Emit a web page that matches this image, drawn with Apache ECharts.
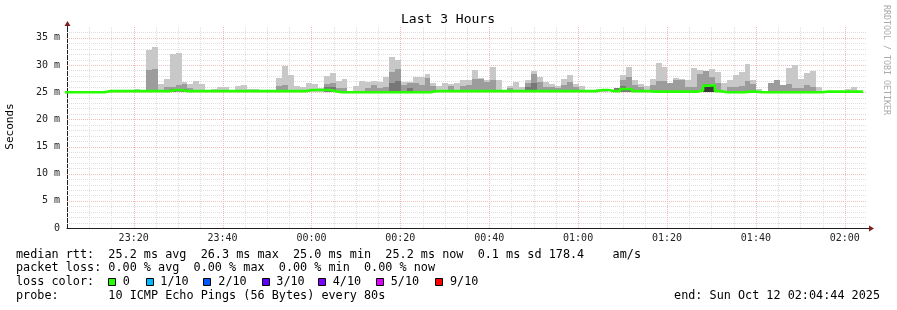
<!DOCTYPE html>
<html><head><meta charset="utf-8">
<script src="https://cdn.jsdelivr.net/npm/echarts@6/dist/echarts.min.js"></script>
<style>html,body{margin:0;padding:0;background:#fff}#c{width:897px;height:310px}</style>
</head><body><div id="c"></div>
<script>
// ---- data ----
// time axis: minutes after 23:00; each step = one 80 s RRD step
const START_MIN = 4.11;          // left edge of first step (23:04:07)
const STEP_MIN = 80 / 60;
const X_MIN = 5, X_MAX = 185;    // 23:05 .. 02:05
const X_MAJOR = [20, 40, 60, 80, 100, 120, 140, 160, 180];   // 23:20 ... 02:00
const Y_MAJOR = [5, 10, 15, 20, 25, 30, 35];                 // ms
const X_MINOR_STEP = 5, Y_MINOR_STEP = 1, Y_TOP = 37;
const SMOKE_FLOOR = 25.1;        // lowest ping level (ms)

const MEDIAN = [
 25.0,25.0,25.0,25.0,25.0,25.0,25.0,25.2,25.2,25.2,
 25.2,25.2,25.2,25.2,25.2,25.2,25.2,25.2,25.4,25.4,
 25.2,25.2,25.2,25.2,25.2,25.2,25.2,25.2,25.2,25.2,
 25.2,25.2,25.2,25.2,25.2,25.2,25.2,25.2,25.2,25.2,
 25.2,25.4,25.4,25.4,25.4,25.2,25.0,25.0,25.0,25.0,
 25.0,25.0,25.0,25.0,25.0,25.0,25.0,25.0,25.0,25.0,
 25.0,25.0,25.2,25.2,25.2,25.2,25.2,25.2,25.2,25.2,
 25.2,25.2,25.2,25.2,25.2,25.2,25.2,25.2,25.2,25.2,
 25.2,25.2,25.2,25.2,25.2,25.2,25.2,25.2,25.2,25.2,
 25.4,25.4,25.2,25.2,25.6,25.6,25.2,25.2,25.2,25.1,
 25.1,25.1,25.1,25.1,25.1,25.1,25.1,25.3,26.2,26.3,
 25.2,25.0,25.0,25.0,25.0,25.1,25.1,25.0,25.0,25.0,
 25.0,25.0,25.0,25.0,25.0,25.0,25.0,25.0,25.1,25.1,
 25.1,25.1,25.1,25.1,25.1
];
const SMOKE_MAX = [
 null,null,null,null,null,null,null,null,null,null,
 null,null,25.6,null,32.7,33.4,26.5,27.5,32.1,32.2,
 26.8,26.5,27.1,26.5,null,25.5,25.9,25.9,null,26.2,
 26.3,25.5,25.5,null,null,null,27.6,29.8,28.2,26.1,
 26.0,26.7,26.5,25.8,28.0,28.5,27.0,27.4,null,26.1,
 27.1,26.9,27.1,26.9,27.8,31.5,30.9,26.9,26.9,27.8,
 27.8,28.3,26.7,26.1,26.7,26.5,26.6,27.2,27.2,29.1,
 27.6,27.3,29.7,27.2,null,26.1,26.8,25.9,27.2,28.9,
 27.8,26.8,26.5,26.1,27.4,28.1,26.5,26.1,null,null,
 25.6,25.6,null,25.8,28.1,29.7,27.2,26.5,26.1,27.4,
 30.3,29.7,26.7,27.7,27.4,27.3,29.4,29.1,28.9,29.2,
 28.7,26.7,27.2,28.1,28.7,30.1,27.2,25.5,null,26.7,
 27.2,26.4,29.4,30.0,27.4,28.5,28.9,25.9,null,null,
 null,null,25.6,25.9,null
];
const SMOKE_MID = [
 null,null,null,null,null,null,null,null,null,null,
 null,null,null,null,29.0,29.2,null,26.0,26.0,26.3,
 26.5,25.7,null,null,null,null,null,null,null,null,
 null,null,null,null,null,null,26.2,26.3,null,null,
 null,null,null,null,26.5,26.7,25.8,25.8,null,null,
 null,25.8,26.4,25.8,25.9,28.7,29.2,26.3,26.7,26.7,
 26.3,27.6,26.1,null,null,26.1,null,26.1,26.3,27.5,
 27.5,26.8,27.2,null,null,25.8,null,null,26.7,28.3,
 26.9,25.9,25.9,25.8,26.3,26.9,25.9,null,null,null,
 null,null,null,25.8,27.3,27.8,26.3,25.9,null,26.3,
 27.1,27.1,26.7,27.2,27.2,25.9,26.0,28.3,28.9,27.8,
 26.6,null,25.9,25.9,26.1,27.1,26.5,null,null,26.7,
 27.2,26.4,26.5,25.8,25.8,26.3,26.0,null,null,null,
 null,null,null,null,null
];
const DARK_STEPS  = [18, 20, 44, 45, 55, 56, 58, 78, 79, 93, 94, 95, 108, 109];
const DARK_VALUES = [25.5,25.6,25.9,26.0,26.7,27.1,25.8,26.0,26.6,25.7,26.1,25.5,26.5,26.4];
const CORE_STEPS  = [108, 109];
const CORE_VALUES = [26.2, 26.2];

const LOSS_LABELS = ['0', '1/10', '2/10', '3/10', '4/10', '5/10', '9/10'];
const LOSS_COLORS = ['#26ff00', '#00b8ff', '#0059ff', '#5e00ff', '#7e00ff', '#dd00ff', '#ff0000'];

// ---- chart ----
const MONO = '"DejaVu Sans Mono", monospace';
const stepTime = j => START_MIN + j * STEP_MIN;

function smokeSeries(steps, tops, color, z) {
  const data = [];
  steps.forEach((j, k) => { if (tops[k] != null) data.push([stepTime(j), SMOKE_FLOOR, tops[k]]); });
  return {
    type: 'custom', z, silent: true, data,
    encode: { x: 0, y: [1, 2] },
    renderItem(params, api) {
      const t = api.value(0), lo = api.value(1), hi = api.value(2);
      const a = api.coord([t, hi]), b = api.coord([t + STEP_MIN, lo]);
      const x0 = Math.round(a[0]), x1 = Math.round(b[0]);
      const y0 = Math.round(a[1]), y1 = Math.round(b[1]);
      const r = echarts.graphic.clipRectByRect(
        { x: x0, y: y0, width: x1 - x0, height: y1 - y0 }, params.coordSys);
      if (!r) return null;
      return { type: 'rect', shape: r, style: { fill: color } };
    }
  };
}
const allSteps = MEDIAN.map((_, j) => j);

// grid lines: [dim (0 = vertical, 1 = horizontal), value, major?]
const gridData = [];
for (let v = X_MIN + X_MINOR_STEP; v < X_MAX; v += X_MINOR_STEP)
  gridData.push([0, v, X_MAJOR.includes(v) ? 1 : 0]);
for (let v = Y_MINOR_STEP; v < Y_TOP; v += Y_MINOR_STEP)
  gridData.push([1, v, Y_MAJOR.includes(v) ? 1 : 0]);
gridData.sort((a, b) => a[2] - b[2]);

const gridSeries = {
  type: 'custom', z: 1, silent: true,
  data: gridData,
  encode: { x: 1, y: 1 },
  renderItem(params, api) {
    const cs = params.coordSys;
    const dim = api.value(0), v = api.value(1), major = api.value(2);
    const style = { stroke: major ? '#f3bcbc' : '#dedede', lineWidth: 1, lineDash: [1, 1] };
    if (dim === 0) {
      const x = Math.round(api.coord([v, 0])[0]) + 0.5;
      return { type: 'line', shape: { x1: x, y1: cs.y, x2: x, y2: cs.y + cs.height }, style };
    }
    const y = Math.round(api.coord([X_MIN, v])[1]) + 0.5;
    return { type: 'line', shape: { x1: cs.x, y1: y, x2: cs.x + cs.width, y2: y }, style };
  }
};

const medianData = MEDIAN.map((v, j) => [stepTime(j), v]);
medianData.push([stepTime(MEDIAN.length), MEDIAN[MEDIAN.length - 1]]);

const chart = echarts.init(document.getElementById('c'), null, { renderer: 'canvas' });

const txt = (x, y, text, extra) => ({
  type: 'text', x, y, silent: true,
  style: Object.assign({ text, fontFamily: MONO, fontSize: 11.8, fill: '#000', verticalAlign: 'middle' }, extra || {})
});

const graphic = [
  txt(448, 20, 'Last 3 Hours', { fontSize: 13, align: 'center' }),
  { type: 'text', x: 10.5, y: 126.5, rotation: Math.PI / 2, silent: true,
    style: { text: 'Seconds', fontFamily: MONO, fontSize: 11, fill: '#000', align: 'center', verticalAlign: 'middle' } },
  { type: 'text', x: 886, y: 60, rotation: -Math.PI / 2, silent: true,
    style: { text: 'RRDTOOL / TOBI OETIKER', fontFamily: MONO, fontSize: 8.3, fill: '#aaa', align: 'center', verticalAlign: 'middle' } },
  txt(16, 254.5, 'median rtt:  25.2 ms avg  26.3 ms max  25.0 ms min  25.2 ms now  0.1 ms sd 178.4    am/s'),
  txt(16, 268.3, 'packet loss: 0.00 % avg  0.00 % max  0.00 % min  0.00 % now'),
  txt(16, 282, 'loss color:'),
  txt(16, 296, 'probe:       10 ICMP Echo Pings (56 Bytes) every 80s'),
  txt(880, 296, 'end: Sun Oct 12 02:04:44 2025', { align: 'right' })
];
const BOX_X = [108, 145.7, 203.3, 261.7, 318.3, 376, 435];
const LABEL_X = [122.7, 160.3, 218.3, 276.3, 332.7, 390.7, 450];
LOSS_LABELS.forEach((lab, i) => {
  graphic.push({ type: 'rect', silent: true, shape: { x: Math.round(BOX_X[i]) + 0.5, y: 278.5, width: 7, height: 7 },
    style: { fill: LOSS_COLORS[i], stroke: '#000', lineWidth: 1 } });
  graphic.push(txt(LABEL_X[i], 282, lab));
});

chart.setOption({
  animation: false,
  backgroundColor: '#fff',
  grid: { left: 67, right: 30, top: 27, bottom: 82, containLabel: false },
  xAxis: {
    type: 'value', min: X_MIN, max: X_MAX, interval: 5,
    axisLine: { show: true, onZero: false, lineStyle: { color: '#1f1f1f', width: 1 } },
    axisTick: { show: false },
    axisLabel: {
      margin: 5, fontFamily: MONO, fontSize: 10, color: '#222',
      formatter: v => {
        if (v % 20 !== 0) return '';
        const tot = 23 * 60 + v;
        const h = Math.floor(tot / 60) % 24, m = tot % 60;
        return String(h).padStart(2, '0') + ':' + String(m).padStart(2, '0');
      }
    },
    splitLine: { show: false }
  },
  yAxis: {
    type: 'value', min: 0, max: Y_TOP, interval: 1,
    axisLine: { show: true, lineStyle: { color: '#1f1f1f', width: 1 } },
    axisTick: { show: false },
    axisLabel: {
      margin: 7, fontFamily: MONO, fontSize: 10, color: '#222',
      formatter: v => (v % 5 !== 0 ? '' : (v === 0 ? '0' : v + ' m'))
    },
    splitLine: { show: false }
  },
  series: [
    gridSeries,
    smokeSeries(allSteps, SMOKE_MAX, '#c8c8c8', 2),
    smokeSeries(allSteps, SMOKE_MID, '#9c9c9c', 3),
    smokeSeries(DARK_STEPS, DARK_VALUES, '#777777', 4),
    smokeSeries(CORE_STEPS, CORE_VALUES, '#3a3a3a', 5),
    {
      type: 'line', z: 6, step: 'end', symbol: 'none', silent: true,
      data: medianData, clip: true,
      lineStyle: { color: '#26ff00', width: 2.6 }
    }
  ],
  graphic
});

// axis arrows
const pr = chart.convertToPixel({ gridIndex: 0 }, [X_MAX, 0]);
const pt = chart.convertToPixel({ gridIndex: 0 }, [X_MIN, Y_TOP]);
const ax = Math.round(pt[0]) + 0.5, ay = Math.round(pr[1]) + 0.5;
chart.setOption({ graphic: graphic.concat([
  { type: 'line', silent: true, shape: { x1: pr[0], y1: ay, x2: pr[0] + 3, y2: ay }, style: { stroke: '#1f1f1f', lineWidth: 1 } },
  { type: 'polygon', silent: true, shape: { points: [[pr[0] + 2, ay - 3], [pr[0] + 7, ay], [pr[0] + 2, ay + 3]] }, style: { fill: '#801f1f' } },
  { type: 'line', silent: true, shape: { x1: ax, y1: pt[1], x2: ax, y2: pt[1] - 2 }, style: { stroke: '#1f1f1f', lineWidth: 1 } },
  { type: 'polygon', silent: true, shape: { points: [[ax - 3, pt[1] - 1], [ax, pt[1] - 6], [ax + 3, pt[1] - 1]] }, style: { fill: '#801f1f' } }
]) });
</script></body></html>
